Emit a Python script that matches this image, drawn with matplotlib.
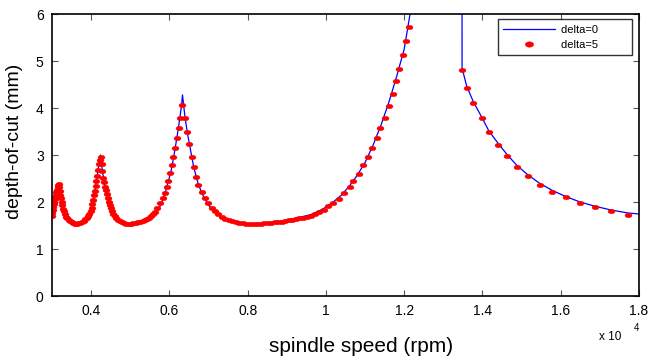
import numpy as np
import matplotlib
matplotlib.use('Agg')
import matplotlib.pyplot as plt
from matplotlib.ticker import FuncFormatter

plt.rcParams['font.family'] = ['Liberation Sans', 'DejaVu Sans']

# delta=0 : continuous stability boundary (rpm, mm)
rpm0 = [3000, 3030, 3060, 3100, 3140, 3168, 3200, 3250, 3300, 3370, 3450, 3550,
        3650, 3750, 3850, 3940, 4000, 4060, 4120, 4180, 4240, 4280, 4340, 4400,
        4460, 4550, 4650, 4780, 4950, 5100, 5250, 5400, 5550, 5700, 5800, 5900,
        5970, 6040, 6110, 6190, 6260, 6310, 6335, 6400, 6460, 6520, 6620, 6740,
        6880, 7020, 7170, 7300, 7460, 7650, 7900, 8200, 8550, 8900, 9250, 9600,
        9800, 10000, 10200, 10400, 10600, 10800, 11000, 11200, 11400, 11600,
        11800, 12000, 12150, 12200, 13478, 13480, 13600, 13770, 13980, 14160,
        14400, 14630, 14880, 15160, 15460, 15780, 16120, 16500, 16880, 17290,
        17700, 18000]
depth0 = [1.68, 1.88, 2.03, 2.17, 2.30, 2.40, 2.25, 2.00, 1.83, 1.69, 1.60, 1.55,
          1.54, 1.56, 1.62, 1.71, 1.83, 2.05, 2.35, 2.70, 3.00, 2.72, 2.38, 2.15,
          1.97, 1.78, 1.66, 1.58, 1.54, 1.55, 1.58, 1.63, 1.70, 1.82, 1.97, 2.22,
          2.43, 2.65, 2.96, 3.36, 3.75, 4.05, 4.28, 3.80, 3.47, 3.20, 2.75, 2.37,
          2.10, 1.91, 1.78, 1.69, 1.61, 1.56, 1.53, 1.54, 1.56, 1.60, 1.66, 1.73,
          1.80, 1.89, 2.01, 2.15, 2.34, 2.57, 2.84, 3.20, 3.62, 4.10, 4.65, 5.25,
          6.00, 6.30, 8.00, 4.85, 4.46, 4.13, 3.81, 3.52, 3.25, 3.01, 2.78, 2.58,
          2.40, 2.25, 2.12, 2.00, 1.91, 1.83, 1.77, 1.745]

# delta=5 : sampled points (rpm, mm)
rpm5 = [3000, 3010, 3020, 3030, 3042, 3055, 3068, 3082, 3097, 3112, 3128, 3145,
        3160, 3172, 3185, 3200, 3215, 3232, 3250, 3268, 3288, 3310, 3335, 3362,
        3392, 3425, 3460, 3500, 3540, 3585, 3630, 3675, 3720, 3765, 3810, 3850,
        3890, 3925, 3955, 3985, 4010, 4035, 4058, 4080, 4100, 4118, 4135, 4152,
        4170, 4190, 4215, 4244, 4270, 4290, 4310, 4330, 4350, 4372, 4395, 4420,
        4445, 4470, 4500, 4530, 4565, 4600, 4645, 4690, 4740, 4790, 4845, 4900,
        4960, 5020, 5080, 5140, 5200, 5260, 5320, 5376, 5430, 5486, 5530, 5573,
        5632, 5690, 5759, 5829, 5887, 5931, 5972, 6015, 6066, 6100, 6135, 6202,
        6237, 6270, 6320, 6398, 6441, 6500, 6569, 6628, 6679, 6738, 6825, 6909,
        6993, 7080, 7165, 7250, 7340, 7430, 7520, 7610, 7700, 7790, 7880, 7970,
        8060, 8150, 8240, 8330, 8420, 8510, 8600, 8690, 8780, 8870, 8960, 9050,
        9140, 9230, 9320, 9410, 9510, 9617, 9712, 9822, 9942, 10059, 10187,
        10333, 10468, 10606, 10698, 10844, 10946, 11082, 11184, 11296, 11388,
        11508, 11603, 11713, 11781, 11873, 11960, 12052, 12121, 13468, 13596,
        13765, 13979, 14158, 14403, 14633, 14881, 15162, 15461, 15775, 16125,
        16498, 16881, 17290, 17709]
depth5 = [1.70, 1.76, 1.83, 1.89, 1.95, 2.01, 2.06, 2.11, 2.16, 2.21, 2.26, 2.31,
          2.36, 2.38, 2.31, 2.23, 2.16, 2.08, 2.00, 1.93, 1.86, 1.80, 1.74, 1.69,
          1.65, 1.61, 1.59, 1.57, 1.55, 1.54, 1.54, 1.55, 1.56, 1.57, 1.60, 1.63,
          1.66, 1.70, 1.75, 1.81, 1.88, 1.96, 2.05, 2.14, 2.24, 2.34, 2.45, 2.56,
          2.68, 2.80, 2.90, 2.96, 2.80, 2.65, 2.52, 2.42, 2.33, 2.25, 2.17, 2.09,
          2.01, 1.94, 1.87, 1.81, 1.75, 1.70, 1.66, 1.62, 1.59, 1.57, 1.55, 1.54,
          1.54, 1.54, 1.55, 1.56, 1.57, 1.58, 1.60, 1.62, 1.64, 1.67, 1.70, 1.74,
          1.79, 1.87, 1.97, 2.08, 2.20, 2.33, 2.45, 2.61, 2.78, 2.96, 3.14, 3.36,
          3.57, 3.79, 4.06, 3.79, 3.49, 3.23, 2.96, 2.74, 2.54, 2.36, 2.22, 2.08,
          1.97, 1.88, 1.80, 1.74, 1.69, 1.64, 1.61, 1.59, 1.57, 1.56, 1.55, 1.54,
          1.54, 1.54, 1.54, 1.54, 1.55, 1.55, 1.56, 1.57, 1.57, 1.58, 1.59, 1.61,
          1.62, 1.64, 1.66, 1.67, 1.69, 1.70, 1.74, 1.78, 1.84, 1.91, 1.99,
          2.07, 2.19, 2.32, 2.45, 2.60, 2.78, 2.96, 3.15, 3.36, 3.57,
          3.79, 4.04, 4.30, 4.57, 4.84, 5.12, 5.42, 5.72, 4.81, 4.43,
          4.10, 3.78, 3.48, 3.21, 2.97, 2.74, 2.55, 2.37, 2.21, 2.10,
          1.97, 1.89, 1.80, 1.73]

xticks = [4000, 6000, 8000, 10000, 12000, 14000, 16000, 18000]
yticks = [0, 1, 2, 3, 4, 5, 6]

# flattened dot like matlab '.' marker
t = np.linspace(0, 2*np.pi, 30)
dot = np.column_stack([np.cos(t), 0.65*np.sin(t)])

fig = plt.figure(figsize=(6.5, 3.61), dpi=100)
ax = fig.add_axes([0.08, 0.18, 0.903, 0.781])

ax.plot(rpm0, depth0, color='#0000ff', lw=0.9, label='delta=0')
ax.plot(rpm5, depth5, ls='none', marker=dot, ms=5.0, color='#ff0000',
        mec='#ff0000', mew=0.3, label='delta=5')

ax.set_xlim(3000, 18000)
ax.set_ylim(0, 6)
ax.set_xticks(xticks)
ax.set_yticks(yticks)
ax.xaxis.set_major_formatter(FuncFormatter(lambda v, p: '%g' % (v/1e4)))
ax.tick_params(direction='in', top=True, right=True, length=4, width=0.8,
               color='#555555', labelsize=10, pad=6)
for s in ax.spines.values():
    s.set_linewidth(1.2)

ax.set_xlabel('spindle speed (rpm)', fontsize=15)
ax.set_ylabel('depth-of-cut (mm)', fontsize=14)
ax.xaxis.set_label_coords(0.526, -0.145)
ax.yaxis.set_label_coords(-0.049, 0.55)

fig.text(0.922, 0.058, 'x 10', fontsize=8.5)
fig.text(0.975, 0.083, '4', fontsize=7)

leg = ax.legend(['delta=0' + '\u00a0' * 9, 'delta=5' + '\u00a0' * 9],
                loc='upper right', fontsize=8, frameon=True, fancybox=False,
                edgecolor='black', borderpad=0.5, borderaxespad=0,
                handlelength=4.6, handletextpad=0.6, labelspacing=0.45,
                bbox_to_anchor=(0.988, 0.982))
leg.get_frame().set_linewidth(1.0)
leg.legend_handles[1].set_markersize(6)

plt.savefig('out.png', dpi=100)
